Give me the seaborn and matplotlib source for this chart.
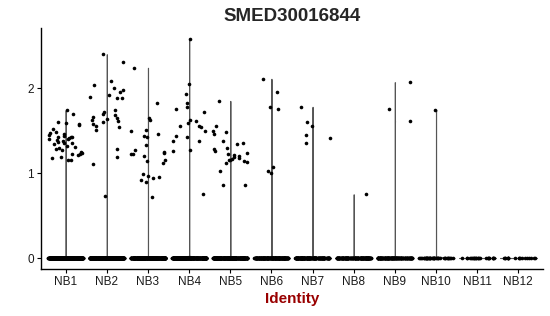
import numpy as np
import pandas as pd
import matplotlib
matplotlib.use("Agg")
import matplotlib.pyplot as plt
import seaborn as sns

# ---- data ----
categories = ["NB1", "NB2", "NB3", "NB4", "NB5", "NB6", "NB7", "NB8", "NB9", "NB10", "NB11", "NB12"]
nb1 = [1.74, 1.70, 1.60, 1.59, 1.58, 1.57, 1.52, 1.49, 1.47, 1.46, 1.45, 1.44, 1.43, 1.42, 1.42,
       1.41, 1.40, 1.40, 1.39, 1.38, 1.37, 1.36, 1.35, 1.34, 1.32, 1.31, 1.30, 1.28, 1.27, 1.25,
       1.24, 1.23, 1.22, 1.21, 1.19, 1.18, 1.16, 1.15]
nb2 = [2.40, 2.31, 2.09, 2.04, 2.00, 1.98, 1.96, 1.92, 1.90, 1.88, 1.88, 1.74, 1.72, 1.70, 1.68,
       1.66, 1.65, 1.64, 1.62, 1.61, 1.60, 1.58, 1.56, 1.54, 1.51, 1.28, 1.19, 1.11, 0.73]
nb3 = [2.24, 1.82, 1.65, 1.62, 1.51, 1.50, 1.46, 1.44, 1.42, 1.33, 1.27, 1.25, 1.24, 1.23, 1.22,
       1.20, 1.15, 1.14, 1.12, 0.99, 0.97, 0.95, 0.94, 0.92, 0.89, 0.72]
nb4 = [2.58, 2.05, 1.93, 1.83, 1.78, 1.75, 1.72, 1.63, 1.61, 1.59, 1.56, 1.56, 1.54, 1.50, 1.44,
       1.43, 1.38, 1.38, 1.27, 1.26, 0.75]
nb5 = [1.85, 1.55, 1.50, 1.48, 1.46, 1.38, 1.36, 1.34, 1.30, 1.28, 1.26, 1.24, 1.22, 1.21, 1.20,
       1.19, 1.18, 1.17, 1.16, 1.15, 1.14, 1.13, 1.12, 1.02, 0.86, 0.86]
nb6 = [2.11, 1.95, 1.78, 1.75, 1.07, 1.03, 1.00]
nb7 = [1.78, 1.60, 1.56, 1.45, 1.41, 1.36]
nb8 = [0.75]
nb9 = [2.07, 1.76, 1.61]
nb10 = [1.74]
nb11 = []
nb12 = []
nonzero = [nb1, nb2, nb3, nb4, nb5, nb6, nb7, nb8, nb9, nb10, nb11, nb12]
zero_counts = [400, 380, 360, 300, 280, 200, 180, 160, 130, 40, 25, 18]

rows = []
for cat, vals, nz in zip(categories, nonzero, zero_counts):
    for v in vals:
        rows.append((cat, v))
    for _ in range(nz):
        rows.append((cat, 0.0))
df = pd.DataFrame(rows, columns=["ident", "expr"])

# ---- plot ----
sns.set_theme(style="white")
plt.rcParams["font.family"] = ["Liberation Sans", "DejaVu Sans"]

fig = plt.figure(figsize=(5.5, 3.16), dpi=100)
ax = fig.add_axes([41 / 550, 1 - 269 / 316, (543 - 41) / 550, (269 - 28) / 316])

palette = sns.color_palette("hls", len(categories))
sns.violinplot(data=df, x="ident", y="expr", hue="ident", order=categories,
               hue_order=categories, palette=palette, legend=False,
               cut=0, inner=None, density_norm="width", bw_method=1e-3,
               width=0.9, linewidth=0.8, linecolor="#555555", ax=ax)
np.random.seed(3)
sns.stripplot(data=df, x="ident", y="expr", order=categories, color="black",
              jitter=0.42, size=2.6, linewidth=0, ax=ax)

ax.set_xlim(-0.6, 11.6)
ax.set_ylim(-0.129, 2.709)
ax.set_yticks([0, 1, 2])
ax.set_yticklabels(["0", "1", "2"])
for sp in ["top", "right"]:
    ax.spines[sp].set_visible(False)
for sp in ["left", "bottom"]:
    ax.spines[sp].set_color("black")
    ax.spines[sp].set_linewidth(1.0)
ax.tick_params(axis="both", which="both", length=3, width=0.8, color="black",
               labelsize=8.5, labelcolor="#1a1a1a", pad=2, bottom=True, left=True)
ax.set_ylabel("")
ax.set_xlabel("Identity", fontsize=11, fontweight="bold", color="#990000", labelpad=3)
ax.set_title("SMED30016844", fontsize=13.5, fontweight="bold", pad=5)

fig.savefig("out.png", dpi=100)
